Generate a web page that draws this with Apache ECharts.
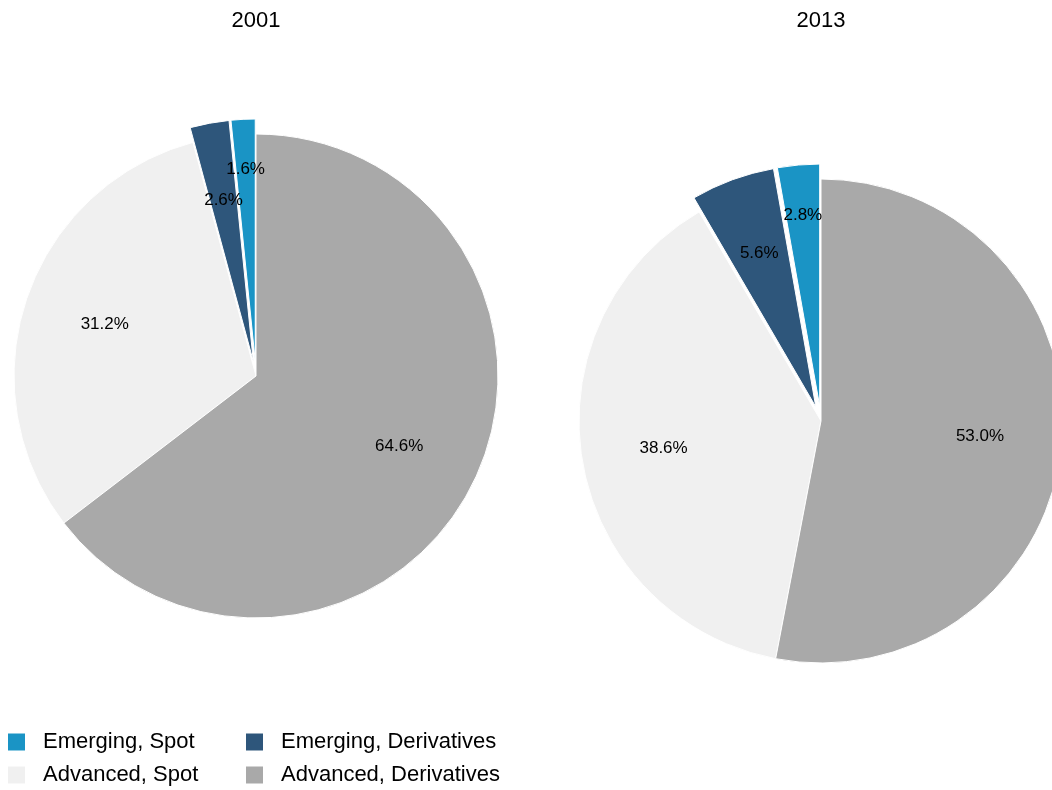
<!DOCTYPE html>
<html>
<head>
<meta charset="utf-8">
<script src="https://cdn.jsdelivr.net/npm/echarts@6/dist/echarts.min.js"></script>
<style>
html,body{margin:0;padding:0;background:#fff;}
#chart{width:1052px;height:790px;}
</style>
</head>
<body>
<div id="chart"></div>
<script>
// ---- data ----
const categories = ['Emerging, Spot', 'Emerging, Derivatives', 'Advanced, Spot', 'Advanced, Derivatives'];
const years = ['2001', '2013'];
const values2001 = [1.6, 2.6, 31.2, 64.6];
const values2013 = [2.8, 5.6, 38.6, 53.0];
const exploded = [true, true, false, false];

// ---- style ----
const colors = ['#1a94c5', '#2e567b', '#f0f0f0', '#a9a9a9'];
const FONT = '"Liberation Sans", Arial, Helvetica, sans-serif';
const R = 242;
const OFFSET = 15;
const centers = [[256, 376], [821, 421]];
const labelRadiusFrac = [0.855, 0.74, 0.66, 0.66]; // relative label distance

const allValues = [values2001, values2013];

function labelLayoutFor(si) {
  const vals = allValues[si];
  const total = vals.reduce((a, b) => a + b, 0);
  return function (params) {
    const i = params.dataIndex;
    let cum = 0;
    for (let k = 0; k < i; k++) cum += vals[k];
    const midDeg = 90 + (cum + vals[i] / 2) / total * 360; // counter-clockwise from 12 o'clock
    const a = midDeg * Math.PI / 180;
    const d = labelRadiusFrac[i] * R;
    return {
      x: centers[si][0] + d * Math.cos(a),
      y: centers[si][1] - d * Math.sin(a),
      align: 'center',
      verticalAlign: 'middle'
    };
  };
}

function makeSeries(si) {
  const vals = allValues[si];
  return {
    type: 'pie',
    name: years[si],
    center: centers[si],
    radius: R,
    startAngle: 90,
    clockwise: false,
    selectedMode: 'multiple',
    selectedOffset: OFFSET,
    animation: false,
    silent: true,
    emphasis: { disabled: true, scale: false },
    itemStyle: { borderColor: '#ffffff', borderWidth: 1 },
    label: { show: false },
    labelLine: { show: false },
    data: categories.map((c, i) => ({
      name: c,
      value: vals[i],
      selected: exploded[i],
      itemStyle: { color: colors[i] }
    }))
  };
}

// transparent overlay carrying the percentage labels
function makeLabelSeries(si) {
  const vals = allValues[si];
  return {
    type: 'pie',
    name: years[si] + ' labels',
    center: centers[si],
    radius: R,
    startAngle: 90,
    clockwise: false,
    animation: false,
    silent: true,
    legendHoverLink: false,
    emphasis: { disabled: true, scale: false },
    itemStyle: { color: 'rgba(0,0,0,0)', borderWidth: 0 },
    label: {
      show: true,
      position: 'inside',
      color: '#000',
      fontSize: 17,
      fontFamily: FONT,
      formatter: p => p.value.toFixed(1) + '%'
    },
    labelLine: { show: false },
    labelLayout: labelLayoutFor(si),
    data: categories.map((c, i) => ({
      name: c + ' ',
      value: vals[i]
    }))
  };
}

const chart = echarts.init(document.getElementById('chart'), null, { renderer: 'canvas' });
chart.setOption({
  backgroundColor: '#ffffff',
  animation: false,
  color: colors,
  title: years.map((y, si) => ({
    text: y,
    left: centers[si][0],
    top: 10,
    textAlign: 'center',
    padding: 0,
    textStyle: { fontSize: 22, fontWeight: 'normal', color: '#000', fontFamily: FONT }
  })),
  legend: [
    {
      data: [categories[0], categories[2]],
      orient: 'vertical',
      left: 6, top: 731,
      padding: 0,
      itemWidth: 19, itemHeight: 19, itemGap: 11,
      icon: 'rect',
      selectedMode: false,
      textStyle: { fontSize: 22, lineHeight: 22, color: '#000', fontFamily: FONT, padding: [0, 0, 0, 12] }
    },
    {
      data: [categories[1], categories[3]],
      orient: 'vertical',
      left: 244, top: 731,
      padding: 0,
      itemWidth: 19, itemHeight: 19, itemGap: 11,
      icon: 'rect',
      selectedMode: false,
      textStyle: { fontSize: 22, lineHeight: 22, color: '#000', fontFamily: FONT, padding: [0, 0, 0, 12] }
    }
  ],
  series: [makeSeries(0), makeSeries(1), makeLabelSeries(0), makeLabelSeries(1)]
});
</script>
</body>
</html>
